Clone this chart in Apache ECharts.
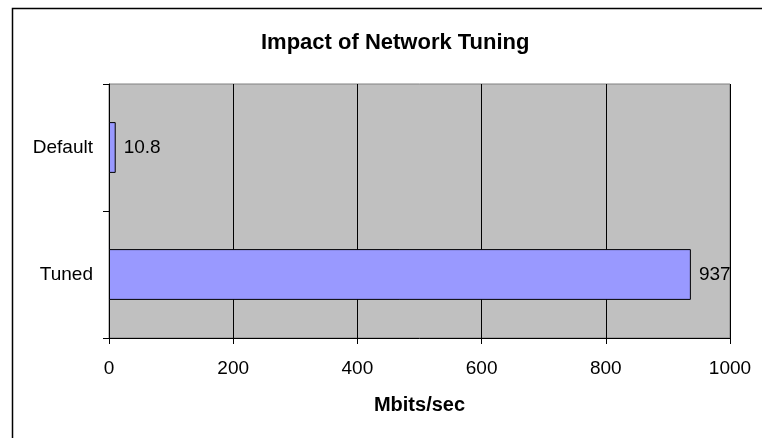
<!DOCTYPE html>
<html>
<head>
<meta charset="utf-8">
<script src="https://cdn.jsdelivr.net/npm/echarts@6/dist/echarts.min.js"></script>
<style>html,body{margin:0;padding:0;background:#fff}#c{width:762px;height:438px}</style>
</head>
<body>
<div id="c"></div>
<script>
const categories = ['Default', 'Tuned'];
const values = [10.8, 937];
const xTicks = [0, 200, 400, 600, 800, 1000];
const titleText = 'Impact of Network Tuning';
const xName = 'Mbits/sec';

const chart = echarts.init(document.getElementById('c'), null, {renderer: 'canvas'});
const font = 'Liberation Sans, Arial, sans-serif';
chart.setOption({
  animation: false,
  backgroundColor: '#fff',
  textStyle: {fontFamily: font},
  graphic: [{
    type: 'rect', left: 10, top: 6, z: 100,
    shape: {width: 800, height: 500},
    style: {fill: 'none', stroke: '#000', lineWidth: 1.5}
  }],
  title: {
    text: titleText, left: 256, top: 27,
    textStyle: {fontFamily: font, fontSize: 22, fontWeight: 'bold', color: '#000'}
  },
  grid: {
    left: 109, top: 84, width: 621, height: 254,
    show: true, backgroundColor: '#C0C0C0', borderColor: '#808080', borderWidth: 1
  },
  xAxis: {
    type: 'value', min: xTicks[0], max: xTicks[xTicks.length - 1], interval: 200,
    name: xName, nameLocation: 'middle', nameGap: 57,
    nameTextStyle: {fontFamily: font, fontSize: 20, fontWeight: 'bold', color: '#000'},
    axisLine: {show: true, lineStyle: {color: '#000', width: 1}},
    axisTick: {show: true, length: 6, lineStyle: {color: '#000'}},
    axisLabel: {fontFamily: font, fontSize: 19, color: '#000', margin: 21, formatter: v => String(v)},
    splitLine: {show: true, lineStyle: {color: '#000', width: 1}}
  },
  yAxis: {
    type: 'category', data: categories, inverse: true,
    axisLine: {show: true, lineStyle: {color: '#000', width: 1}},
    axisTick: {show: true, length: 6, alignWithLabel: false, lineStyle: {color: '#000'}},
    axisLabel: {fontFamily: font, fontSize: 19, color: '#000', margin: 16}
  },
  series: [{
    type: 'bar', data: values, barCategoryGap: '60%',
    itemStyle: {color: '#9999FF', borderColor: '#000', borderWidth: 1},
    label: {show: true, position: 'right', distance: 8, fontFamily: font, fontSize: 19, color: '#000'}
  }]
});
</script>
</body>
</html>
